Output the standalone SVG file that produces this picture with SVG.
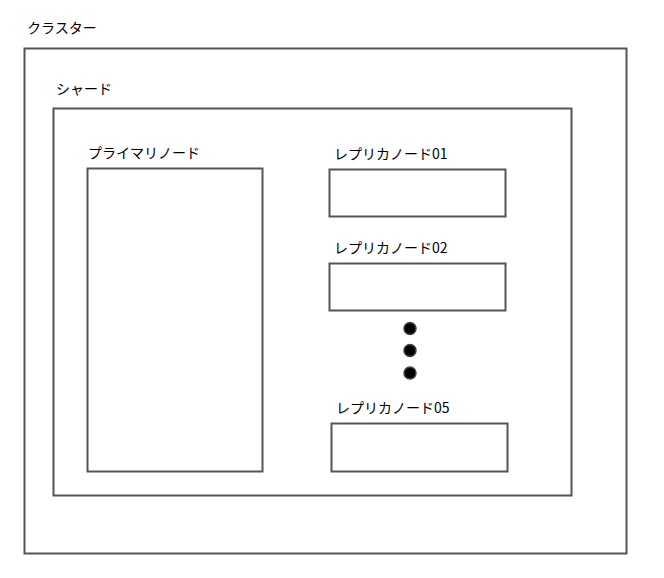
<svg xmlns="http://www.w3.org/2000/svg" width="664" height="578" viewBox="0 0 664 578">
<style>
.box{fill:#fff;stroke:#555;stroke-width:2}
.lbl{font-family:"Noto Sans CJK JP","Liberation Sans",sans-serif;font-size:14px;fill:#000}
.dot{fill:#000;stroke:#444;stroke-width:1.5}
</style>
<rect width="664" height="578" fill="#fff"/>
<g id="cluster">
<rect class="box" x="24.5" y="48.5" width="602" height="505"/>
<text class="lbl" x="27" y="33">クラスター</text>
</g>
<g id="shard">
<rect class="box" x="53.5" y="108.5" width="518" height="387"/>
<text class="lbl" x="56" y="94">シャード</text>
</g>
<g id="primary">
<rect class="box" x="87.5" y="168.5" width="175" height="303"/>
<text class="lbl" x="88" y="158">プライマリノード</text>
</g>
<g id="replica01">
<rect class="box" x="329.5" y="169.5" width="176" height="47"/>
<text class="lbl" x="334" y="159">レプリカノード01</text>
</g>
<g id="replica02">
<rect class="box" x="329.5" y="263.5" width="176" height="47"/>
<text class="lbl" x="334" y="253">レプリカノード02</text>
</g>
<g id="ellipsis">
<circle class="dot" cx="410" cy="328.5" r="6"/>
<circle class="dot" cx="410" cy="350.5" r="6"/>
<circle class="dot" cx="410" cy="373" r="6"/>
</g>
<g id="replica05">
<rect class="box" x="331.5" y="423.5" width="176" height="48"/>
<text class="lbl" x="336" y="413">レプリカノード05</text>
</g>
<g id="connectors"></g>
</svg>
